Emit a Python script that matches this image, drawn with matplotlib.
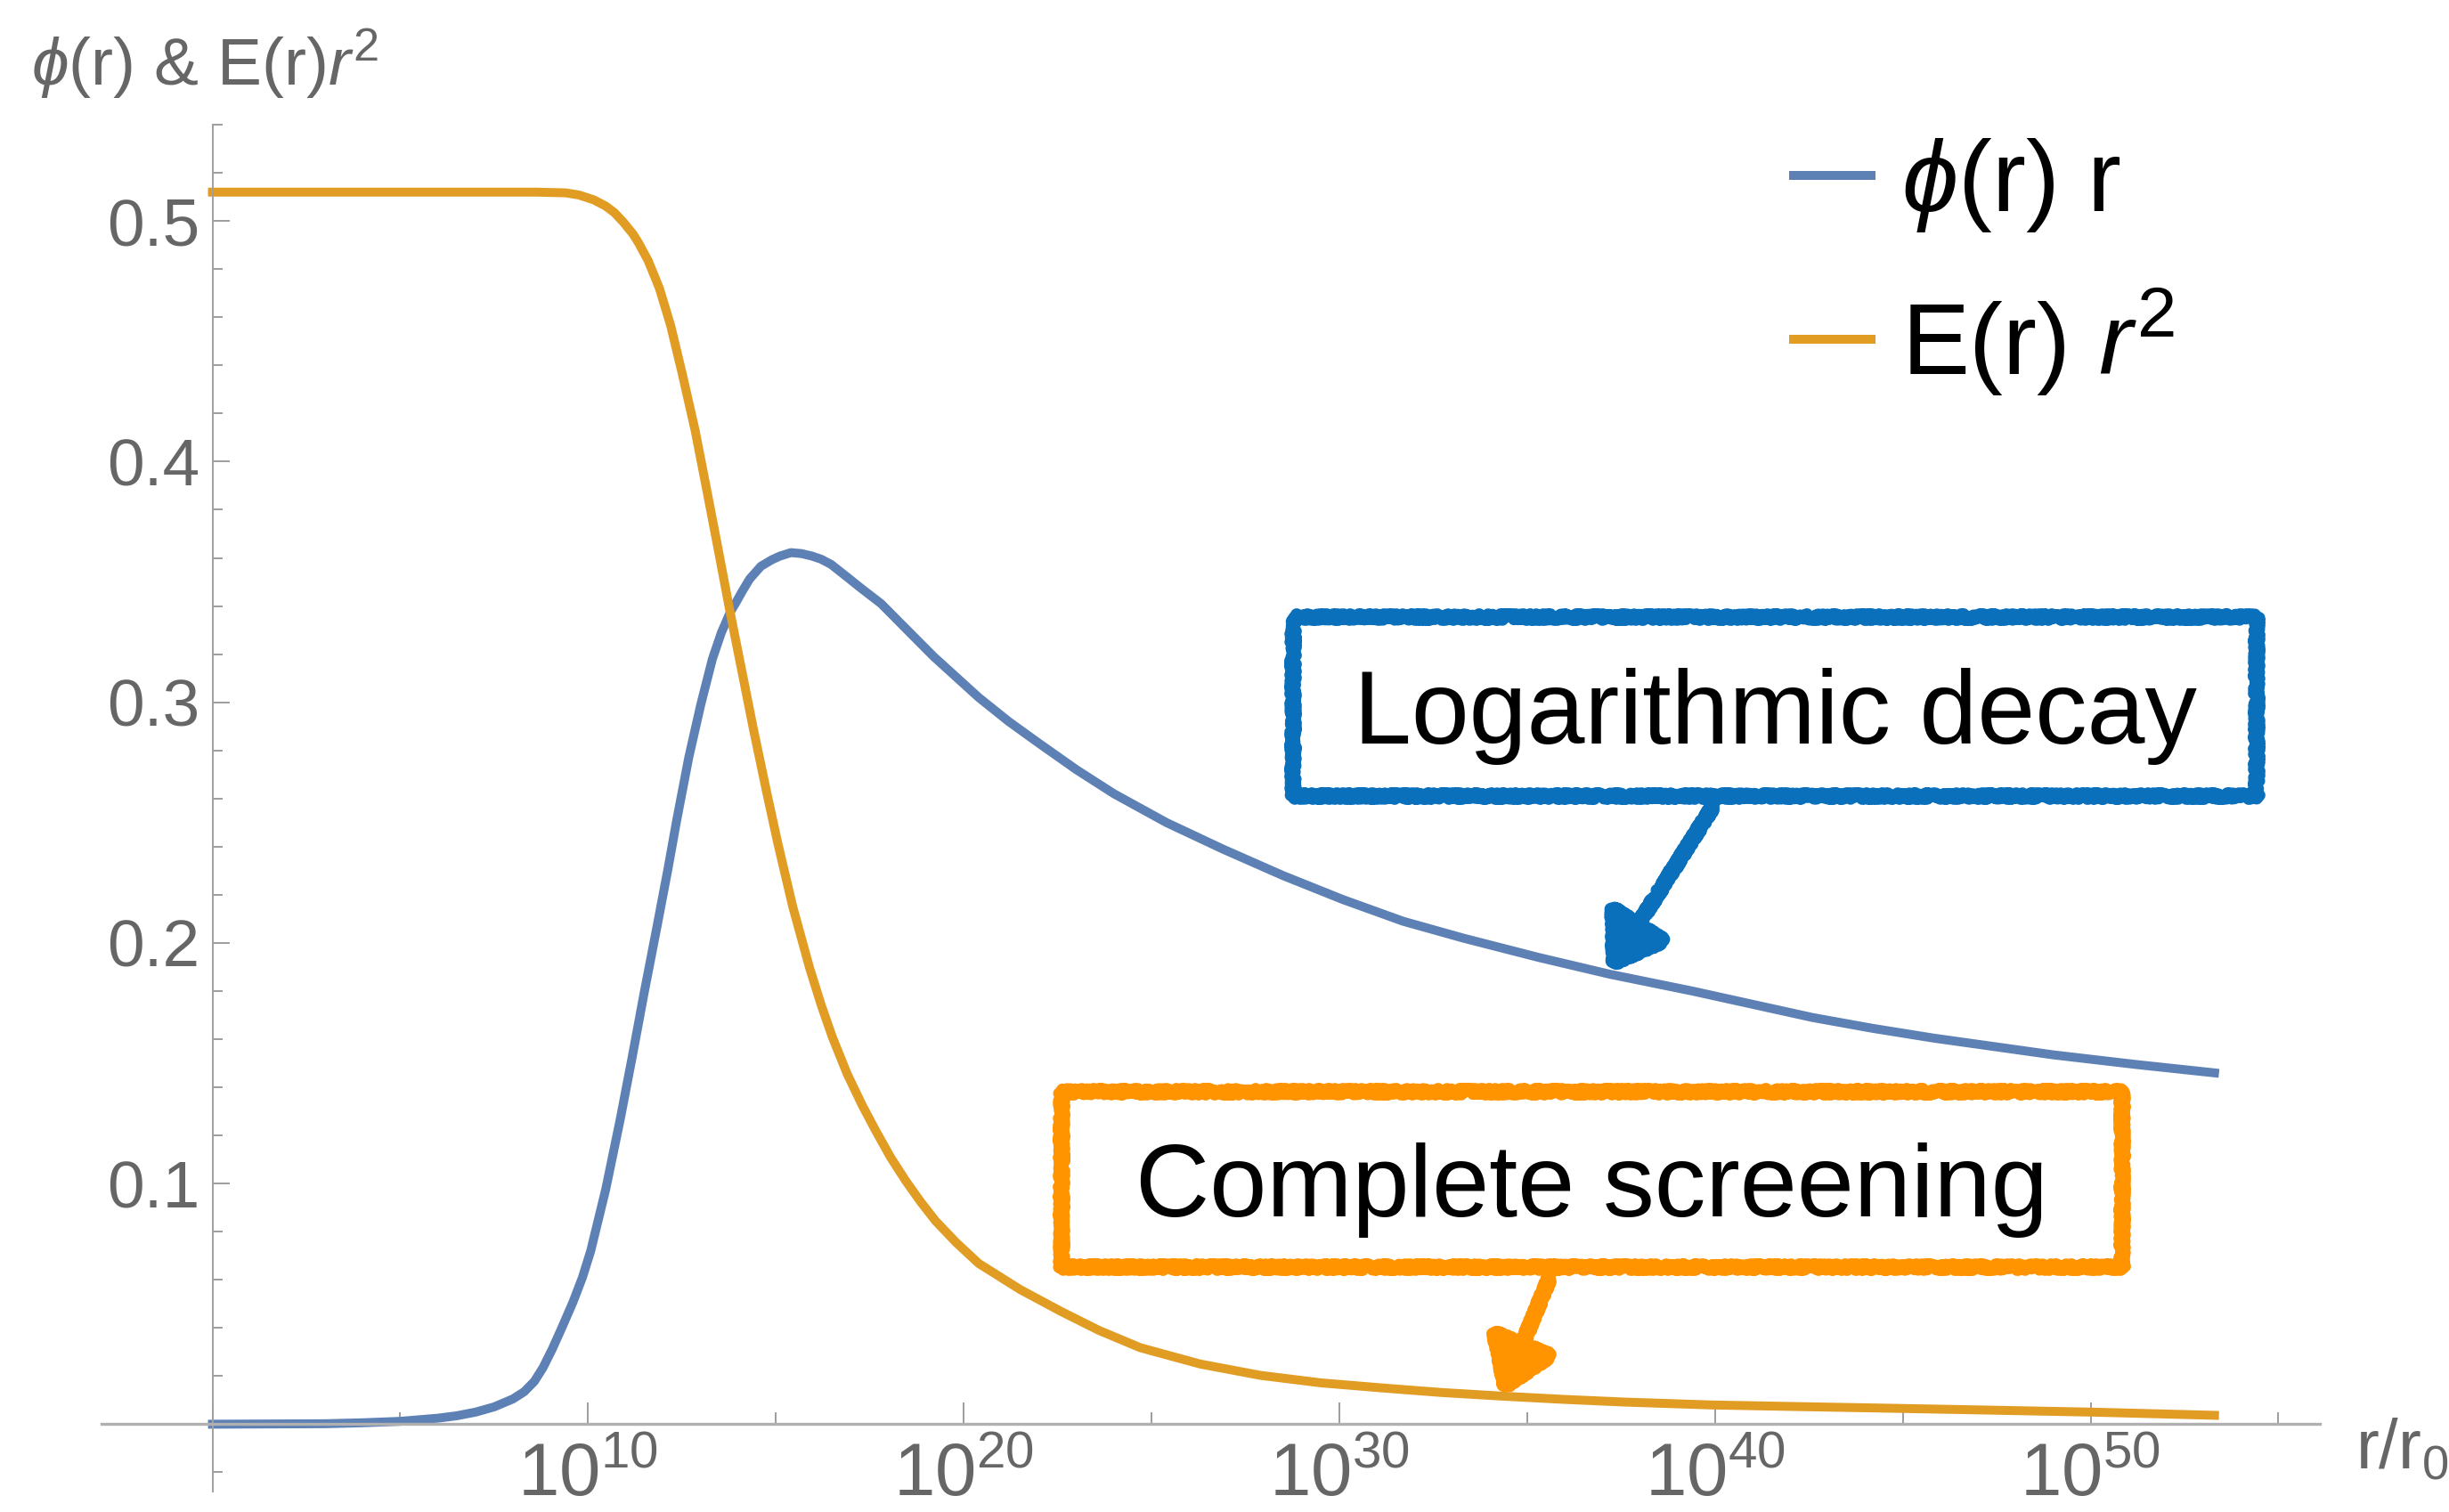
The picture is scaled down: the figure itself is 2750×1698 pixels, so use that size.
import numpy as np
import matplotlib
matplotlib.use("Agg")
import matplotlib.pyplot as plt
from matplotlib.patches import Rectangle, FancyArrowPatch
from matplotlib.lines import Line2D
from matplotlib.ticker import FixedLocator, FixedFormatter, NullFormatter

plt.rcParams['font.family'] = ['Liberation Sans', 'DejaVu Sans']
plt.rcParams['mathtext.fontset'] = 'custom'
plt.rcParams['mathtext.rm'] = 'Liberation Sans'
plt.rcParams['mathtext.it'] = 'Liberation Sans:italic'
plt.rcParams['mathtext.bf'] = 'Liberation Sans:bold'

# curves, x given as log10(r/r0)
phi_exp = [0, 3, 4, 5, 6, 6.5, 7.0, 7.5, 8.0, 8.3, 8.57, 8.8, 9.04, 9.3, 9.6,
           9.85, 10.07, 10.47, 10.86, 11.18, 11.49, 11.85, 12.13, 12.36, 12.68,
           13.0, 13.31, 13.55, 13.79, 13.95, 14.1, 14.3, 14.6, 14.89, 15.1, 15.4,
           15.68, 15.95, 16.2, 16.47, 16.9, 17.26, 17.8, 18.5, 19.2, 20.4, 21.2,
           22.0, 23.0, 24.0, 25.4, 26.9, 28.5, 30.1, 31.7, 33.3, 35.3, 37.2,
           39.4, 41.0, 42.6, 44.2, 45.8, 47.4, 49.0, 51.2, 53.3]
phi_val = [0, 0.0002, 0.0006, 0.0012, 0.0025, 0.0035, 0.005, 0.0072, 0.0105,
           0.0135, 0.0178, 0.0235, 0.031, 0.040, 0.0508, 0.061, 0.072, 0.0976,
           0.127, 0.153, 0.179, 0.208, 0.231, 0.251, 0.277, 0.299, 0.318, 0.329,
           0.3376, 0.3418, 0.346, 0.3512, 0.3565, 0.3592, 0.3607, 0.3622, 0.3618,
           0.3608, 0.3595, 0.3573, 0.352, 0.3475, 0.341, 0.330, 0.319, 0.302,
           0.292, 0.283, 0.272, 0.262, 0.250, 0.239, 0.228, 0.218, 0.209, 0.202,
           0.194, 0.187, 0.180, 0.1745, 0.169, 0.1645, 0.1605, 0.157, 0.1535,
           0.1495, 0.146]

E_exp = [0, 5, 8.0, 8.6, 9.4, 9.76, 10.15, 10.47, 10.7, 10.94, 11.2, 11.34, 11.6,
         11.9, 12.2, 12.5, 12.85, 13.15, 13.45, 13.75, 14.1, 14.4, 14.75, 15.05,
         15.45, 15.9, 16.2, 16.5, 16.9, 17.3, 17.65, 18.05, 18.45, 18.85, 19.25,
         19.8, 20.4, 21.5, 22.6, 23.6, 24.7, 26.3, 27.9, 29.5, 31.2, 32.7, 34.3,
         36.0, 37.6, 39.9, 42.3, 44.8, 47.5, 50.1, 53.3]
E_val = [0.512, 0.512, 0.512, 0.512, 0.5117, 0.5108, 0.5088, 0.5062, 0.5035,
         0.4995, 0.4945, 0.491, 0.4835, 0.472, 0.4565, 0.437, 0.413, 0.389,
         0.3647, 0.340, 0.3125, 0.289, 0.263, 0.2415, 0.2150, 0.1895, 0.1745,
         0.161, 0.1455, 0.1325, 0.1222, 0.111, 0.1013, 0.0925, 0.0845, 0.0755,
         0.0668, 0.056, 0.0468, 0.039, 0.0318, 0.025, 0.0203, 0.0172, 0.0150,
         0.0132, 0.0117, 0.0103, 0.0092, 0.0080, 0.0073, 0.0066, 0.0058, 0.0050,
         0.0037]

x_major_exp = [0, 10, 20, 30, 40, 50]
x_labels = ['', '$10^{10}$', '$10^{20}$', '$10^{30}$', '$10^{40}$', '$10^{50}$']
y_major = [0.1, 0.2, 0.3, 0.4, 0.5]
y_labels = ['0.1', '0.2', '0.3', '0.4', '0.5']

BLUE = '#5E81B5'
ORANGE = '#E19C24'
BOX_BLUE = '#0A70BC'
BOX_ORANGE = '#FF9300'
GRAY = '#666666'

fig = plt.figure(figsize=(13.75, 8.49), dpi=200)
ax = fig.add_axes([0.0415, 0.0135, 0.9057, 0.904])

ax.plot(10.0 ** np.array(phi_exp), phi_val, color=BLUE, lw=3.6,
        solid_joinstyle='round')
ax.plot(10.0 ** np.array(E_exp), E_val, color=ORANGE, lw=3.6,
        solid_joinstyle='round')

ax.set_xscale('log')
ax.set_xlim(10 ** -2.95, 10 ** 56.1)
ax.set_ylim(-0.028, 0.540)

for s in ['top', 'right']:
    ax.spines[s].set_visible(False)
ax.spines['left'].set_position(('data', 1))
ax.spines['bottom'].set_position(('data', 0))
ax.spines['bottom'].set_color('#B0B0B0')
ax.spines['bottom'].set_linewidth(1.2)
ax.spines['left'].set_color('#A0A0A0')
ax.spines['left'].set_linewidth(0.7)

ax.xaxis.set_major_locator(FixedLocator(10.0 ** np.array(x_major_exp)))
ax.xaxis.set_major_formatter(FixedFormatter(x_labels))
ax.xaxis.set_minor_locator(FixedLocator(10.0 ** np.arange(5, 56, 10)))
ax.xaxis.set_minor_formatter(NullFormatter())
ax.yaxis.set_major_locator(FixedLocator(y_major))
ax.yaxis.set_major_formatter(FixedFormatter(y_labels))
y_minor = [v / 100 for v in range(-2, 55, 2) if v % 10 != 0]
ax.yaxis.set_minor_locator(FixedLocator(y_minor))

ax.tick_params(axis='x', which='major', direction='in', length=8.6, width=0.6,
               color='#8C8C8C', labelsize=30, labelcolor=GRAY, pad=7)
ax.tick_params(axis='x', which='minor', direction='in', length=4.6, width=0.6,
               color='#8C8C8C')
ax.tick_params(axis='y', which='major', direction='in', length=6.8, width=0.6,
               color='#8C8C8C', labelsize=27, labelcolor=GRAY, pad=5)
ax.tick_params(axis='y', which='minor', direction='in', length=4.0, width=0.6,
               color='#8C8C8C')

fig.text(35 / 2750, 1 - 96 / 1698, r'$\phi$(r) & E(r)$r^2$', fontsize=27,
         color=GRAY, ha='left', va='baseline')
fig.text(2645 / 2750, 1 - 1649 / 1698, r'r/r$_0$', fontsize=28,
         color=GRAY, ha='left', va='baseline')

handles = [Line2D([], [], color=BLUE, lw=3.6), Line2D([], [], color=ORANGE, lw=3.6)]
ax.legend(handles, [r'$\phi$(r) r', r'E(r) $r^2$'], loc='upper left',
          bbox_to_anchor=(0.7324, 0.91), bbox_transform=fig.transFigure,
          frameon=False, fontsize=41, handlelength=0.76, handletextpad=0.3,
          labelspacing=0.52, borderpad=0, borderaxespad=0)

# hand drawn looking call-outs
def rough_box(x0, x1, y0, y1, color, text, baseline, size):
    rect = Rectangle((10 ** x0, y0), 10 ** x1 - 10 ** x0, y1 - y0, fill=False,
                     edgecolor=color, lw=5.0, zorder=4, joinstyle='round',
                     capstyle='round')
    rect.set_sketch_params(scale=3.0, length=2.0, randomness=4.0)
    ax.add_patch(rect)
    ax.text(10 ** ((x0 + x1) / 2), baseline, text, fontsize=size, color='black',
            ha='center', va='baseline', zorder=5)

def rough_arrow(xa, ya, xb, yb, color):
    arr = FancyArrowPatch((10 ** xa, ya), (10 ** xb, yb),
                          arrowstyle='-|>,head_length=0.45,head_width=0.3',
                          mutation_scale=40, color=color, lw=5,
                          shrinkA=0, shrinkB=0, zorder=5, joinstyle='round',
                          capstyle='round')
    arr.set_sketch_params(scale=3.0, length=2.0, randomness=4.0)
    ax.add_patch(arr)

rough_box(28.77, 54.42, 0.261, 0.3353, BOX_BLUE, 'Logarithmic decay', 0.283, 42)
rough_box(22.6, 50.83, 0.0654, 0.138, BOX_ORANGE, 'Complete screening', 0.0865, 41.5)
rough_arrow(39.96, 0.257, 37.16, 0.188, BOX_BLUE)
rough_arrow(35.6, 0.061, 34.31, 0.0117, BOX_ORANGE)

fig.savefig('out.png', dpi=200)
